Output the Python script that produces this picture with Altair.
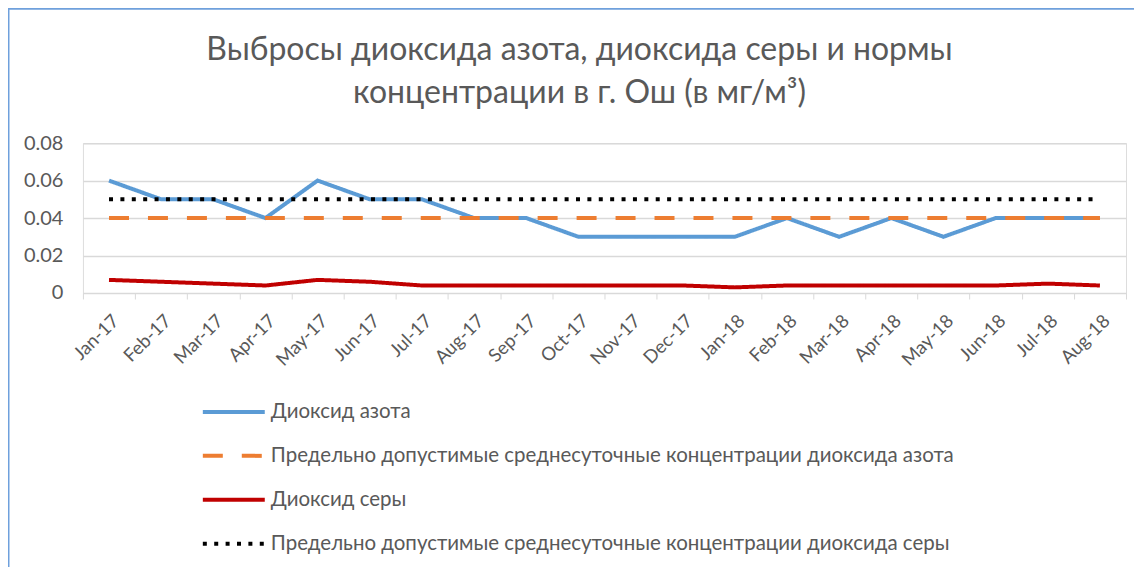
import altair as alt
import pandas as pd

months = ["Jan-17", "Feb-17", "Mar-17", "Apr-17", "May-17", "Jun-17", "Jul-17",
          "Aug-17", "Sep-17", "Oct-17", "Nov-17", "Dec-17", "Jan-18", "Feb-18",
          "Mar-18", "Apr-18", "May-18", "Jun-18", "Jul-18", "Aug-18"]

no2 = [0.06, 0.05, 0.05, 0.04, 0.06, 0.05, 0.05, 0.04, 0.04, 0.03,
       0.03, 0.03, 0.03, 0.04, 0.03, 0.04, 0.03, 0.04, 0.04, 0.04]
no2_limit = [0.04, 0.04, 0.04, 0.04, 0.04, 0.04, 0.04, 0.04, 0.04, 0.04,
             0.04, 0.04, 0.04, 0.04, 0.04, 0.04, 0.04, 0.04, 0.04, 0.04]
so2 = [0.007, 0.006, 0.005, 0.004, 0.007, 0.006, 0.004, 0.004, 0.004, 0.004,
       0.004, 0.004, 0.003, 0.004, 0.004, 0.004, 0.004, 0.004, 0.005, 0.004]
so2_limit = [0.05, 0.05, 0.05, 0.05, 0.05, 0.05, 0.05, 0.05, 0.05, 0.05,
             0.05, 0.05, 0.05, 0.05, 0.05, 0.05, 0.05, 0.05, 0.05, 0.05]

names = ["Диоксид азота",
         "Предельно допустимые среднесуточные концентрации диоксида азота",
         "Диоксид серы",
         "Предельно допустимые среднесуточные концентрации диоксида серы"]
colors = ["#5B9BD5", "#ED7D31", "#C00000", "#000000"]
dashes = [[1, 0], [20, 19], [1, 0], [4, 7.4]]

title_lines = ["Выбросы диоксида азота, диоксида серы и нормы",
               "концентрации в г. Ош (в мг/м³)"]

rows = []
for name, vals in zip(names, [no2, no2_limit, so2, so2_limit]):
    for m, v in zip(months, vals):
        rows.append({"month": m, "value": v, "series": name})
df = pd.DataFrame(rows)

FONT = "Lato"
TXT = "#595959"
W, H = 1044, 150

legend = alt.Legend(
    title=None, orient="none", legendX=118, legendY=236, direction="vertical",
    labelFontSize=20.5, labelColor=TXT, labelFont=FONT, labelOffset=4,
    symbolType="stroke", symbolSize=3844, symbolStrokeWidth=4, rowPadding=0,
    labelLimit=1000,
)

x_enc = alt.X("month:N", sort=months, title=None,
              scale=alt.Scale(paddingInner=0, paddingOuter=0),
              axis=alt.Axis(labelAngle=-45, labelFontSize=18.5, labelColor=TXT,
                            labelFont=FONT, domainColor="#D9D9D9", tickColor="#D9D9D9",
                            tickSize=6, tickBand="extent", grid=False, labelPadding=12))
y_enc = alt.Y("value:Q", title=None,
              scale=alt.Scale(domain=[0, 0.08]),
              axis=alt.Axis(values=[0, 0.02, 0.04, 0.06, 0.08],
                            labelExpr="datum.value == 0 ? '0' : format(datum.value, '.2f')",
                            labelFontSize=20, labelColor=TXT, labelFont=FONT,
                            gridColor="#D9D9D9", gridWidth=1.5, domain=False,
                            ticks=False, labelPadding=20))
color_enc = alt.Color("series:N", scale=alt.Scale(domain=names, range=colors), legend=legend)
dash_enc = alt.StrokeDash("series:N", scale=alt.Scale(domain=names, range=dashes), legend=legend)

layers = []
for name in names:
    layers.append(
        alt.Chart(df).transform_filter(alt.datum.series == name)
        .mark_line(strokeWidth=4)
        .encode(x=x_enc, y=y_enc, color=color_enc, strokeDash=dash_enc)
    )

one = pd.DataFrame({"a": [0]})
border = alt.Chart(one).mark_rect(
    fill="transparent", stroke="#6FA0DC", strokeWidth=3
).encode(x=alt.value(-75), x2=alt.value(1300), y=alt.value(-135), y2=alt.value(700))

title1 = alt.Chart(one).mark_text(
    text=title_lines[0], fontSize=32, font=FONT, color=TXT, align="center",
    baseline="alphabetic"
).encode(x=alt.value(497), y=alt.value(-83))
title2 = alt.Chart(one).mark_text(
    text=title_lines[1], fontSize=32, font=FONT, color=TXT, align="center",
    baseline="alphabetic"
).encode(x=alt.value(497), y=alt.value(-40))

chart = alt.layer(border, title1, title2, *layers).properties(
    width=W, height=H,
    autosize=alt.AutoSizeParams(type="none"),
    padding={"left": 75, "top": 135, "right": 8, "bottom": 274},
).configure_view(stroke=None).configure(background="white")

chart.save("out.html", embed_options={"renderer": "svg", "actions": False})
